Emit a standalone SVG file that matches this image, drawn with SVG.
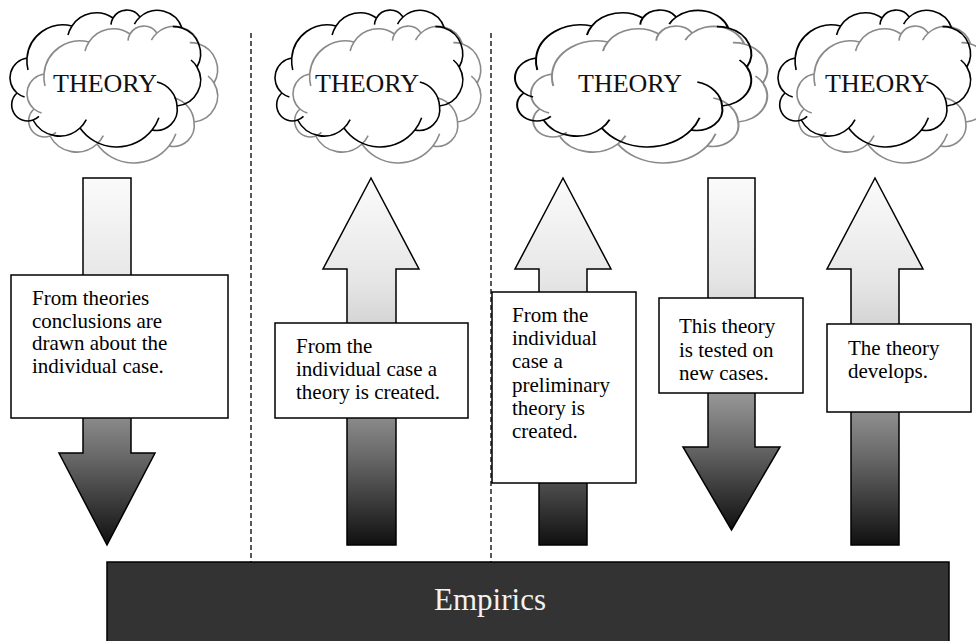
<svg xmlns="http://www.w3.org/2000/svg" xmlns:xlink="http://www.w3.org/1999/xlink" width="976" height="641" viewBox="0 0 976 641">
<style>
.cl{fill:none;stroke-width:1.6;vector-effect:non-scaling-stroke;stroke-linejoin:round}
.cb{stroke:#000}
.cg{stroke:#8a8a8a;fill:#fff}
.box{fill:#fff;stroke:#000;stroke-width:1.5}
.arr{fill:url(#grad);stroke:#000;stroke-width:1.5;stroke-linejoin:miter}
.sep{stroke:#000;stroke-width:1.3;stroke-dasharray:5 3;fill:none}
</style>
<defs>
<linearGradient id="grad" x1="0" y1="0" x2="0" y2="1">
<stop offset="0" stop-color="#fbfbfb"/>
<stop offset="0.28" stop-color="#e6e6e6"/>
<stop offset="0.4" stop-color="#d4d4d4"/>
<stop offset="0.66" stop-color="#888888"/>
<stop offset="0.76" stop-color="#686868"/>
<stop offset="1" stop-color="#101010"/>
</linearGradient>
<path id="cloud" d="M17,49 A36,36 0 0 1 62,17 A29,29 0 0 1 103,9 A16,16 0 0 1 130,8 A26,26 0 0 1 172,19 A27,27 0 0 1 187,58 A26,26 0 0 1 167,97 A21,21 0 0 1 142,121 A45,45 0 0 1 70,119 A30,30 0 0 1 23,111 A16,16 0 0 1 7,84 A20,20 0 0 1 17,49 Z M18,61 A36,36 0 0 1 17,49 M58,26 A29,29 0 0 1 62,17 M101,15.6 A16,16 0 0 1 103,9 M124.4,15.1 A26,26 0 0 1 130,8 M162.8,17.6 A27,27 0 0 1 172,19 M181,51 A26,26 0 0 1 187,58 M147,73 A26,26 0 0 1 167,97 M148.9,108.7 A45,45 0 0 1 142,121 M76.3,110.7 A30,30 0 0 1 70,119 M28.9,107.4 A16,16 0 0 1 23,111 M14.6,88 A20,20 0 0 1 7,84"/>
</defs>
<rect width="976" height="641" fill="#fff"/>
<g id="separators">
<line class="sep" x1="251" y1="33" x2="251" y2="569"/>
<line class="sep" x1="491" y1="33" x2="491" y2="569"/>
</g>
<g id="theory1">
<use xlink:href="#cloud" class="cl cg" transform="translate(27,25)"/>
<use xlink:href="#cloud" class="cl cb" transform="translate(10,9)"/>
<text x="53" y="92" font-family="'Liberation Serif','Times New Roman',serif" font-size="26" fill="#111">THEORY</text>
</g>
<g id="theory2">
<use xlink:href="#cloud" class="cl cg" transform="translate(293,25) scale(0.985,1)"/>
<use xlink:href="#cloud" class="cl cb" transform="translate(275,9) scale(0.985,1)"/>
<text x="315" y="92" font-family="'Liberation Serif','Times New Roman',serif" font-size="26" fill="#111">THEORY</text>
</g>
<g id="theory3">
<use xlink:href="#cloud" class="cl cg" transform="translate(531,25) scale(1.24,1)"/>
<use xlink:href="#cloud" class="cl cb" transform="translate(515,9) scale(1.24,1)"/>
<text x="578" y="92" font-family="'Liberation Serif','Times New Roman',serif" font-size="26" fill="#111">THEORY</text>
</g>
<g id="theory4">
<use xlink:href="#cloud" class="cl cg" transform="translate(797,25) scale(1.01,1)"/>
<use xlink:href="#cloud" class="cl cb" transform="translate(778,9) scale(1.01,1)"/>
<text x="825" y="92" font-family="'Liberation Serif','Times New Roman',serif" font-size="26" fill="#111">THEORY</text>
</g>
<g id="connectors">
<path class="arr" d="M83,178 H131 V453 H155 L107,545 L59,453 H83 Z"/>
<path class="arr" d="M371,178 L419,269 H396 V545 H347 V269 H323 Z"/>
<path class="arr" d="M563,178 L611,269 H587 V545 H539 V269 H515 Z"/>
<path class="arr" d="M708,178 H755 V447 H780 L731.5,530 L683,447 H708 Z"/>
<path class="arr" d="M875,178 L923,269 H899 V545 H851 V269 H827 Z"/>
</g>
<g id="box1">
<rect class="box" x="11" y="275" width="217" height="143"/>
<text font-family="'Liberation Serif','Times New Roman',serif" font-size="21" fill="#000"><tspan x="32" y="305">From theories</tspan><tspan x="32" y="327.5">conclusions are</tspan><tspan x="32" y="350">drawn about the</tspan><tspan x="32" y="372.5">individual case.</tspan></text>
</g>
<g id="box2">
<rect class="box" x="275" y="323" width="193" height="95"/>
<text font-family="'Liberation Serif','Times New Roman',serif" font-size="21" fill="#000"><tspan x="296" y="353">From the</tspan><tspan x="296" y="376">individual case a</tspan><tspan x="296" y="399">theory is created.</tspan></text>
</g>
<g id="box3">
<rect class="box" x="492" y="292" width="144" height="191"/>
<text font-family="'Liberation Serif','Times New Roman',serif" font-size="21" fill="#000"><tspan x="512" y="322">From the</tspan><tspan x="512" y="345">individual</tspan><tspan x="512" y="368">case a</tspan><tspan x="512" y="392">preliminary</tspan><tspan x="512" y="415">theory is</tspan><tspan x="512" y="438">created.</tspan></text>
</g>
<g id="box4">
<rect class="box" x="659" y="298" width="144" height="95"/>
<text font-family="'Liberation Serif','Times New Roman',serif" font-size="21" fill="#000"><tspan x="679" y="333">This theory</tspan><tspan x="679" y="357">is tested on</tspan><tspan x="679" y="380">new cases.</tspan></text>
</g>
<g id="box5">
<rect class="box" x="827" y="324" width="144" height="88"/>
<text font-family="'Liberation Serif','Times New Roman',serif" font-size="21" fill="#000"><tspan x="848" y="355">The theory</tspan><tspan x="848" y="378">develops.</tspan></text>
</g>
<g id="empirics">
<rect x="107" y="562" width="842" height="90" fill="#333" stroke="#000" stroke-width="1.5"/>
<text x="490" y="610" text-anchor="middle" font-family="'Liberation Serif','Times New Roman',serif" font-size="31" fill="#f2f2f2">Empirics</text>
</g>
</svg>
